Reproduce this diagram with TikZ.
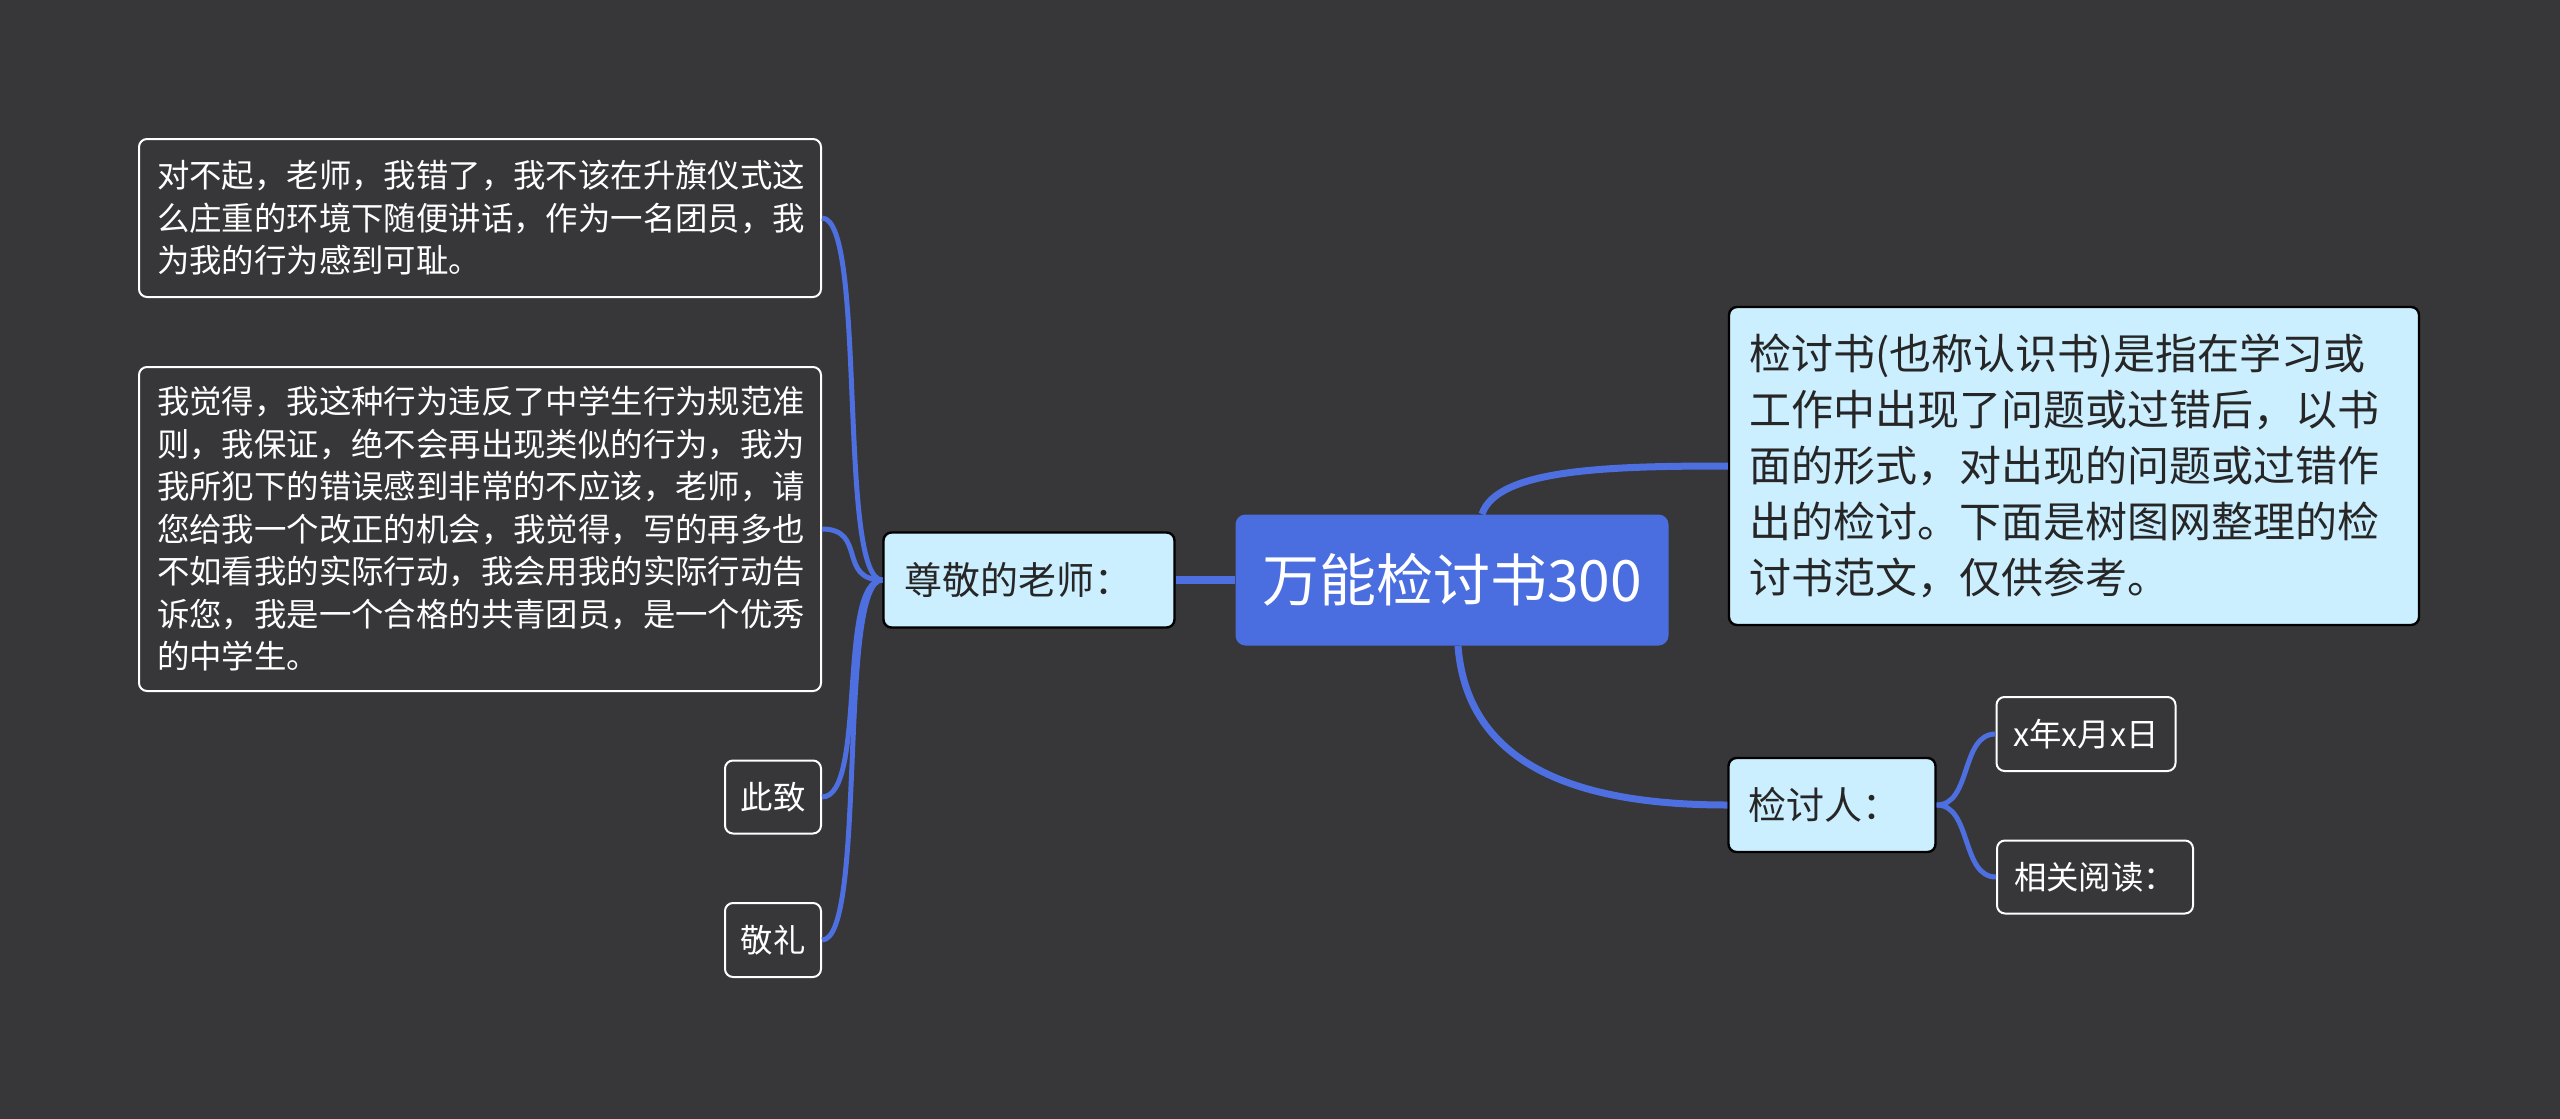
\documentclass[tikz,border=0pt]{standalone}
\usepackage{fontspec}
\newfontfamily\cjk{Noto Sans CJK SC}
\definecolor{bgdark}{HTML}{373638}
\definecolor{rootblue}{HTML}{4A6EE0}
\definecolor{paleblue}{HTML}{CCEFFF}
\definecolor{linkblue}{HTML}{4D6FDF}
\begin{document}
\begin{tikzpicture}[x=0.5pt, y=-0.5pt,
  rootbox/.style={fill=rootblue, rounded corners=5pt, text=white, inner sep=0pt,
    font=\cjk\fontsize{28.5}{34}\selectfont, minimum width=216.5pt, minimum height=65.5pt},
  mainbox/.style={fill=paleblue, draw=black, line width=1.2pt, rounded corners=4pt,
    text=black!85, inner sep=0pt},
  leafbox/.style={fill=bgdark, draw=white, line width=1pt, rounded corners=4pt,
    text=white, inner sep=0pt, font=\cjk\fontsize{16.2}{21.25}\selectfont},
  link/.style={draw=linkblue, line width=2.5pt}]
      \fill[bgdark] (0,0) rectangle (2560,1119);
      \useasboundingbox (0,0) rectangle (2560,1119);
      % centre and first level
      \node[rootbox] (root) at (1452,580) {万能检讨书300};
      \node[mainbox, font=\cjk\fontsize{19}{23}\selectfont, align=left, text width=124.5pt, inner xsep=10.5pt, minimum height=47.5pt] (teacher) at (1029,580) {尊敬的老师：};
      \node[mainbox, font=\cjk\fontsize{21}{28}\selectfont, align=left, text width=325pt, inner xsep=10pt, minimum height=159pt] (desc) at (2074,466) {检讨书(也称认识书)是指在学习或\\工作中出现了问题或过错后，以书\\面的形式，对出现的问题或过错作\\出的检讨。下面是树图网整理的检\\讨书范文，仅供参考。};
      \node[mainbox, font=\cjk\fontsize{19}{23}\selectfont, align=left, text width=83.5pt, inner xsep=10pt, minimum height=47pt] (signer) at (1832,805) {检讨人：};
      % left leaves
      \node[leafbox, align=left, text width=323pt, inner xsep=9pt, minimum height=79pt] (apology) at (480,218) {对不起，老师，我错了，我不该在升旗仪式这\\么庄重的环境下随便讲话，作为一名团员，我\\为我的行为感到可耻。};
      \node[leafbox, align=left, text width=323pt, inner xsep=9pt, minimum height=162pt] (promise) at (480,529) {我觉得，我这种行为违反了中学生行为规范准\\则，我保证，绝不会再出现类似的行为，我为\\我所犯下的错误感到非常的不应该，老师，请\\您给我一个改正的机会，我觉得，写的再多也\\不如看我的实际行动，我会用我的实际行动告\\诉您，我是一个合格的共青团员，是一个优秀\\的中学生。};
      \node[leafbox, minimum width=48pt, minimum height=36.5pt] (cizhi) at (773,797) {此致};
      \node[leafbox, minimum width=48pt, minimum height=37pt] (jingli) at (773,940) {敬礼};
      % right leaves
      \node[leafbox, minimum width=89.5pt, minimum height=37pt] (date) at (2086,734) {x年x月x日};
      \node[leafbox, minimum width=98pt, minimum height=36.5pt] (further) at (2095,877) {相关阅读：};
      % connectors
      \draw[link, line width=4pt] (root.west) -- (teacher.east);
      \draw[link, line width=3.5pt] ([xshift=15pt]root.north) .. controls +(15,-45) and +(-120,0) .. (desc.west);
      \draw[link, line width=3.5pt] ([xshift=3pt]root.south) .. controls +(10,130) and +(-130,0) .. (signer.west);
      \draw[link] (teacher.west) .. controls +(-45,0) and +(45,0) .. (apology.east);
      \draw[link] (teacher.west) .. controls +(-45,0) and +(45,0) .. (promise.east);
      \draw[link] (teacher.west) .. controls +(-45,0) and +(45,0) .. (cizhi.east);
      \draw[link] (teacher.west) .. controls +(-45,0) and +(45,0) .. (jingli.east);
      \draw[link] (signer.east) .. controls +(35,0) and +(-35,0) .. (date.west);
      \draw[link] (signer.east) .. controls +(35,0) and +(-35,0) .. (further.west);
   \end{tikzpicture}
\end{document}
